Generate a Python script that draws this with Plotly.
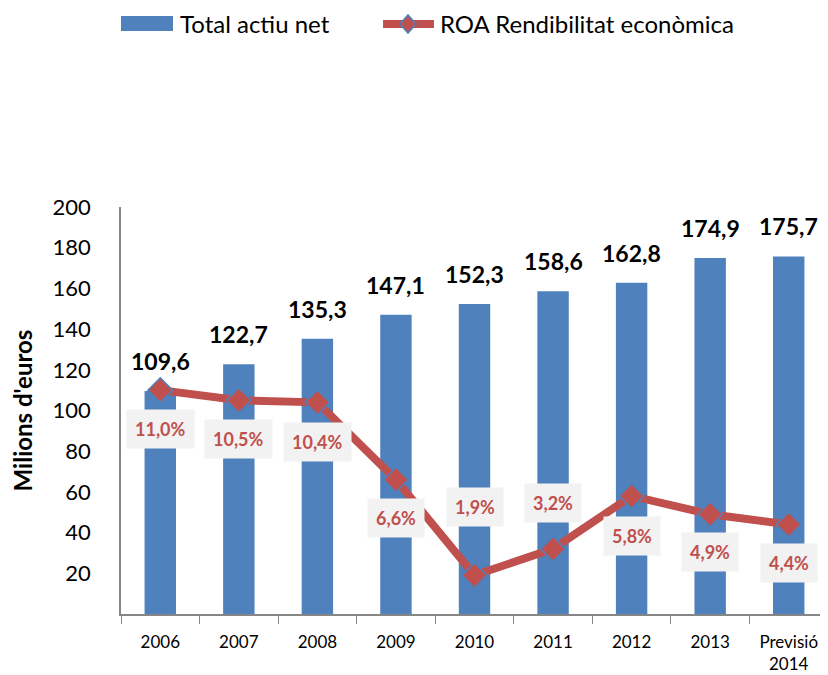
import plotly.graph_objects as go

categories = ["2006", "2007", "2008", "2009", "2010", "2011", "2012", "2013", "Previsió<br>2014"]
total_actiu = [109.6, 122.7, 135.3, 147.1, 152.3, 158.6, 162.8, 174.9, 175.7]
roa = [11.0, 10.5, 10.4, 6.6, 1.9, 3.2, 5.8, 4.9, 4.4]
y_ticks = [20, 40, 60, 80, 100, 120, 140, 160, 180, 200]
series_names = ["Total actiu net", "ROA Rendibilitat econòmica"]

# label offsets (pixels) for ROA labels, as placed in the original
roa_label_shift = [-39, -39, -40, -38, 68, 46, -40, -38, -39]

def fmt(v, dec=1):
    return f"{v:.{dec}f}".replace(".", ",")

BLUE = "#4F81BD"
RED = "#C0504D"
FONT = "Lato"

fig = go.Figure()
fig.add_trace(go.Bar(
    x=categories, y=total_actiu, name=series_names[0],
    marker=dict(color=BLUE, line=dict(width=0)),
    yaxis="y", showlegend=False,
))
fig.add_trace(go.Scatter(
    x=categories, y=roa, name=series_names[1],
    mode="lines+markers",
    line=dict(color=RED, width=8),
    marker=dict(symbol="diamond", size=19, color=RED, line=dict(color=BLUE, width=1.5)),
    yaxis="y2", showlegend=False,
))

annotations = []
for i, v in enumerate(total_actiu):
    annotations.append(dict(
        x=i, y=v, xref="x", yref="y", text=f"<b>{fmt(v)}</b>",
        showarrow=False, yanchor="bottom", yshift=14,
        font=dict(family=FONT, size=23, color="black"),
    ))
for i, (v, s) in enumerate(zip(roa, roa_label_shift)):
    annotations.append(dict(
        x=i, y=v, xref="x", yref="y2", text=f"<b>{fmt(v)}%</b>",
        showarrow=False, yshift=s,
        font=dict(family=FONT, size=18, color=RED),
        bgcolor="#F2F2F2", borderpad=8,
    ))

# --- legend drawn by hand (paper coordinates above the plot area) ---
PX0, PW = 121, 707      # plot area left / width in page pixels
PY0, PH = 614, 407      # plot area bottom / height in page pixels
def px(x): return (x - PX0) / PW
def py(y): return (PY0 - y) / PH

LEG_Y = 24
shapes = [
    dict(type="rect", xref="paper", yref="paper",
         x0=px(121), x1=px(173), y0=py(31), y1=py(16),
         fillcolor=BLUE, line=dict(width=0)),
    dict(type="line", xref="paper", yref="paper",
         x0=px(383), x1=px(434), y0=py(LEG_Y), y1=py(LEG_Y),
         line=dict(color=RED, width=8)),
    dict(type="path", xref="paper", yref="paper",
         path=(f"M {px(400)},{py(LEG_Y)} L {px(408)},{py(LEG_Y-9)} "
               f"L {px(416)},{py(LEG_Y)} L {px(408)},{py(LEG_Y+9)} Z"),
         fillcolor=RED, line=dict(color=BLUE, width=1.5)),
]
annotations.append(dict(
    x=px(178), y=py(LEG_Y), xref="paper", yref="paper", text=series_names[0],
    showarrow=False, xanchor="left", yanchor="middle",
    font=dict(family=FONT, size=24, color="black"),
))
annotations.append(dict(
    x=px(438), y=py(LEG_Y), xref="paper", yref="paper", text=series_names[1],
    showarrow=False, xanchor="left", yanchor="middle",
    font=dict(family=FONT, size=24, color="black"),
))

fig.update_layout(
    width=820, height=667,
    margin=dict(l=113, r=0, t=199, b=61, autoexpand=False),
    plot_bgcolor="white", paper_bgcolor="white",
    font=dict(family=FONT, color="black"),
    bargap=0.6,
    showlegend=False,
    xaxis=dict(
        type="category", showline=True, linecolor="#868686", linewidth=1.5,
        ticks="outside", tickson="boundaries", ticklen=8, tickcolor="#868686",
        tickfont=dict(family=FONT, size=17, color="black"),
        ticklabelstandoff=12,
        showgrid=False, zeroline=False, automargin=False,
        range=[-0.5, 8.5],
    ),
    yaxis=dict(
        range=[0, 200], tickvals=y_ticks, showgrid=False, zeroline=False,
        showline=True, linecolor="#868686", linewidth=1.5, ticks="",
        tickfont=dict(family=FONT, size=22, color="black"),
        ticklabelstandoff=24, automargin=False,
        title=dict(text="<b>Milions d'euros</b>", font=dict(family=FONT, size=24), standoff=16),
    ),
    yaxis2=dict(
        range=[0, 20], overlaying="y", side="right", visible=False,
        showgrid=False, zeroline=False,
    ),
    shapes=shapes,
    annotations=annotations,
)

fig.write_html("out.html")
